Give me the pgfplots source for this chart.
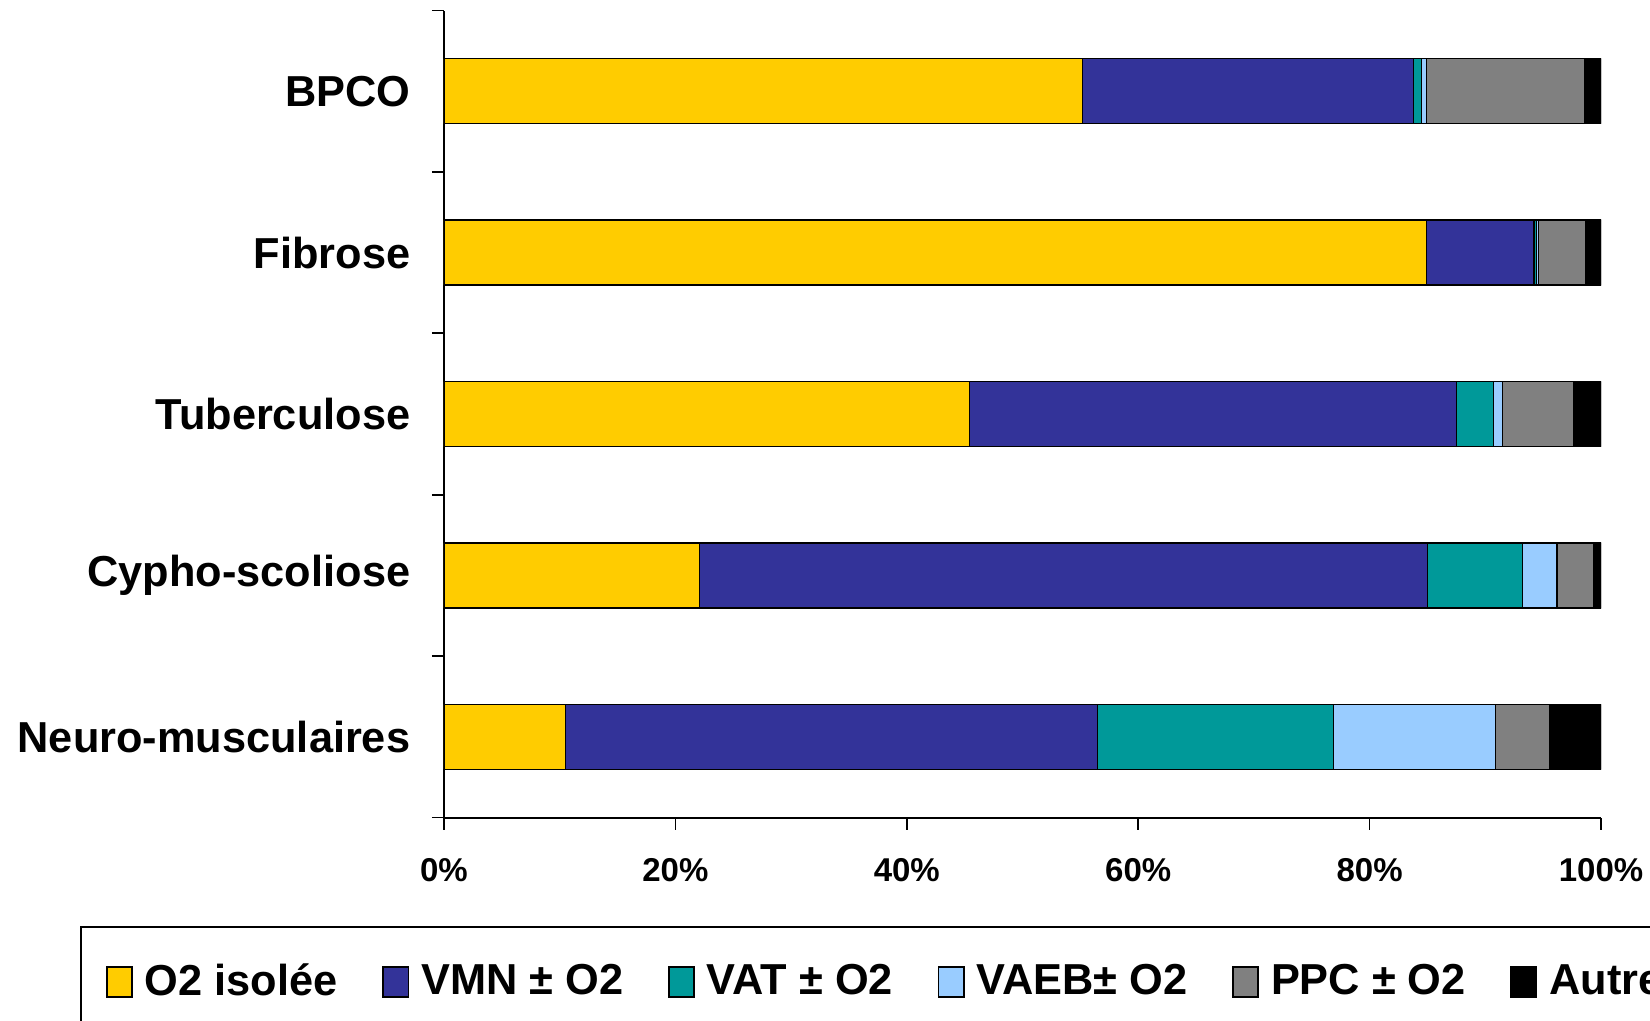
\documentclass[border=0pt]{standalone}
\usepackage{pgfplots}
\pgfplotsset{compat=1.18}
\usepackage{fontspec}
\setmainfont{Liberation Sans}
\definecolor{cO}{HTML}{FFCC00}
\definecolor{cV}{HTML}{333399}
\definecolor{cT}{HTML}{009999}
\definecolor{cL}{HTML}{99CCFF}
\definecolor{cG}{HTML}{808080}
\definecolor{cA}{HTML}{000000}
\begin{document}
\begin{tikzpicture}
\begin{axis}[
  at={(0,0)}, anchor=south west,
  scale only axis, width=347.1pt, height=242.1pt,
  xbar stacked, bar width=19.5pt,
  xmin=0, xmax=100, ymin=-0.5, ymax=4.5,
  axis lines=left, axis line style={-, line width=0.6pt},
  tick align=outside, tick style={black, line width=0.5pt},
  major tick length=3.6pt,
  xtick={0,20,...,100},
  xticklabel={\pgfmathprintnumber{\tick}\%},
  xticklabel style={font=\fontsize{9.9}{11}\selectfont\bfseries, yshift=-5pt},
  /pgf/number format/assume math mode=true,
  ytick={-0.5,0.5,...,4.5}, yticklabels={},
  extra y ticks={0,1,2,3,4},
  extra y tick labels={Neuro-musculaires,Cypho-scoliose,Tuberculose,Fibrose,BPCO},
  extra y tick style={major tick length=0pt, yticklabel style={font=\fontsize{13}{15}\selectfont\bfseries, xshift=-6.6pt}},
  every axis plot/.append style={draw=black, line width=0.4pt},
  legend columns=-1,
  legend image code/.code={\draw[#1, line width=0.5pt] (0pt,-4.5pt) rectangle (7.6pt,4.5pt);},
  legend style={at={(-0.3146,-0.1342)}, anchor=north west, draw=black, line width=0.6pt,
    font=\fontsize{13}{15}\selectfont\bfseries,
    inner xsep=7.5pt, inner ysep=9pt,
    /tikz/every odd column/.append style={column sep=1.6pt},
    /tikz/every even column/.append style={column sep=11.4pt}},
]
\addplot[fill=cO] coordinates {(55.2,4) (84.9,3) (45.4,2) (22.1,1) (10.5,0)};
\addplot[fill=cV] coordinates {(28.6,4) (9.3,3) (42.1,2) (62.9,1) (46.0,0)};
\addplot[fill=cT] coordinates {(0.7,4) (0.2,3) (3.2,2) (8.2,1) (20.4,0)};
\addplot[fill=cL] coordinates {(0.4,4) (0.2,3) (0.8,2) (3.0,1) (14.0,0)};
\addplot[fill=cG] coordinates {(13.7,4) (4.1,3) (6.1,2) (3.2,1) (4.7,0)};
\addplot[fill=cA] coordinates {(1.4,4) (1.3,3) (2.4,2) (0.6,1) (4.4,0)};
\legend{O2 isolée, VMN ± O2, VAT ± O2, VAEB± O2, PPC ± O2, Autres}
\end{axis}
\pgfresetboundingbox
\path[use as bounding box] (-133.2pt,-61pt) rectangle (361.8pt,245.25pt);
\end{tikzpicture}
\end{document}
